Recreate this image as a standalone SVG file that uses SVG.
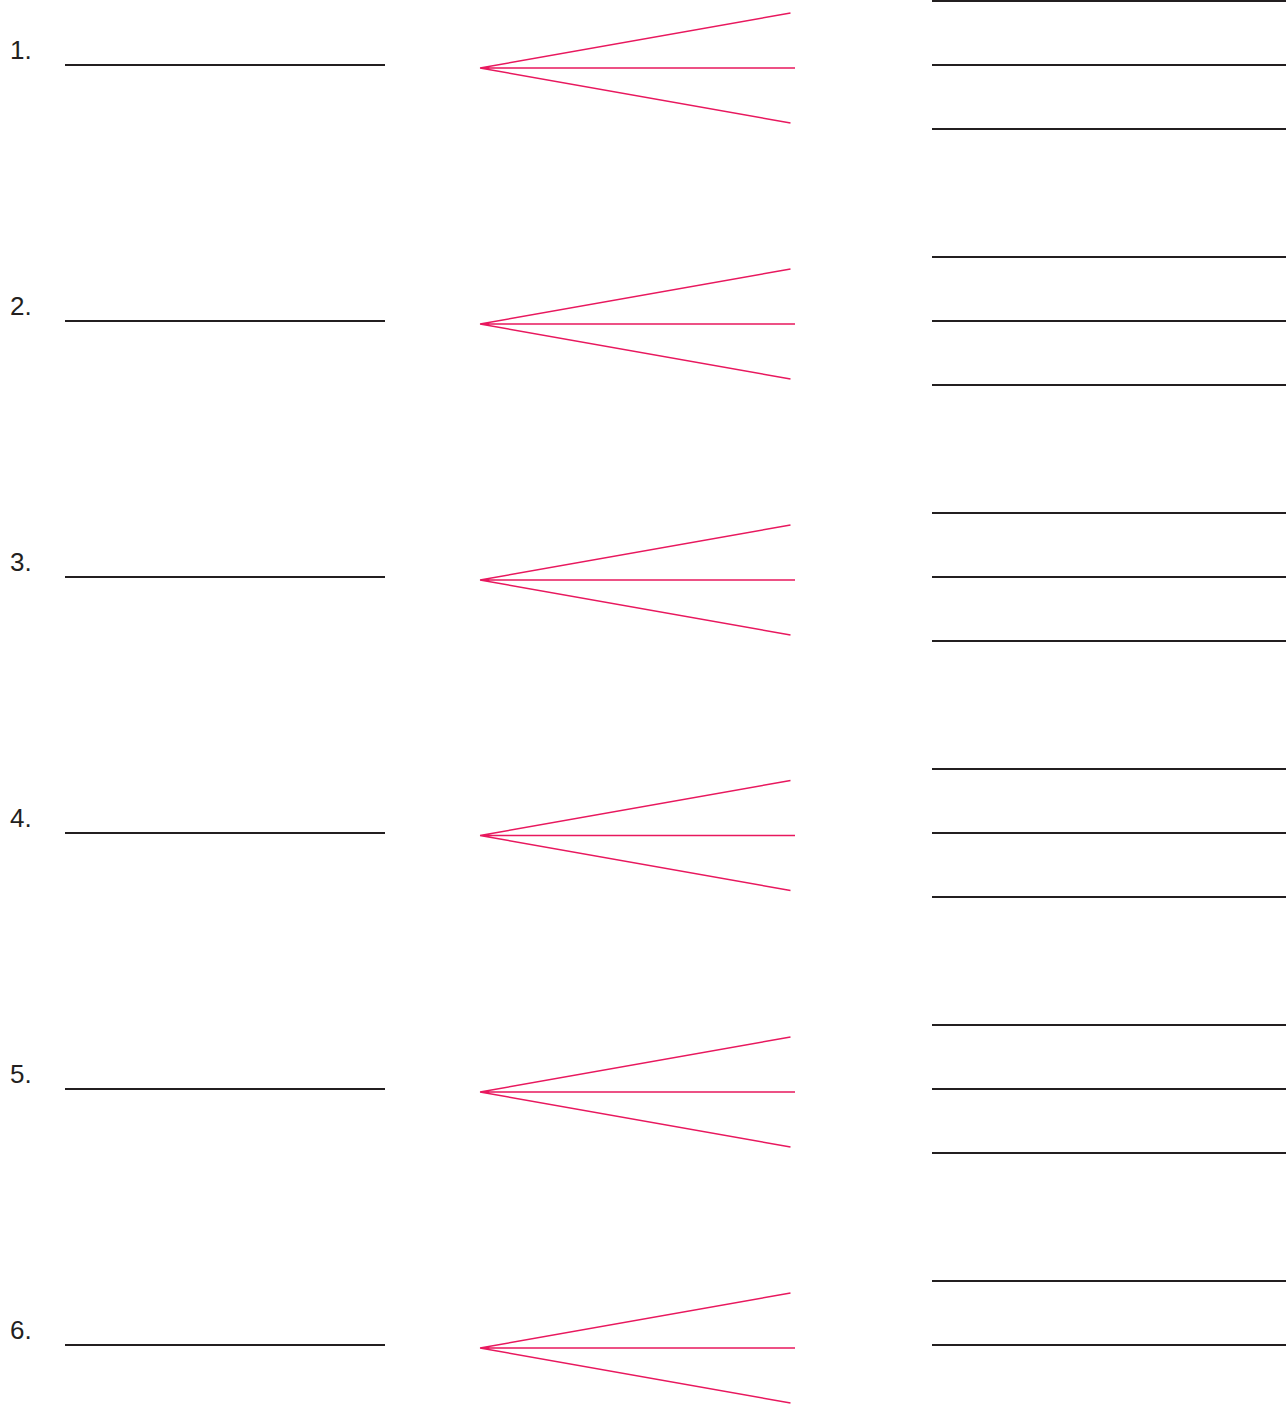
<svg xmlns="http://www.w3.org/2000/svg" width="1286" height="1407" viewBox="0 0 1286 1407">
<style>
.num{font-family:"Liberation Sans",Arial,sans-serif;font-size:26px;fill:#231f20}
.ul{stroke:#231f20;stroke-width:1.8;fill:none}
.fan{stroke:#e8185e;stroke-width:1.4;fill:none}
</style>
<rect width="1286" height="1407" fill="#ffffff"/>
<defs>
<g id="fanshape">
<path class="fan" d="M480,0 L790.5,-55 M480,0 L795,0 M480,0 L790.5,55"/>
</g>
</defs>
<g id="connectors">
<use href="#fanshape" y="68"/>
<use href="#fanshape" y="324"/>
<use href="#fanshape" y="580"/>
<use href="#fanshape" y="835.5"/>
<use href="#fanshape" y="1092"/>
<use href="#fanshape" y="1348"/>
</g>
<g id="node1"><text class="num" x="10" y="59">1.</text><line class="ul" x1="65" y1="65" x2="385" y2="65"/></g>
<g id="node2"><text class="num" x="10" y="315">2.</text><line class="ul" x1="65" y1="321" x2="385" y2="321"/></g>
<g id="node3"><text class="num" x="10" y="571">3.</text><line class="ul" x1="65" y1="577" x2="385" y2="577"/></g>
<g id="node4"><text class="num" x="10" y="827">4.</text><line class="ul" x1="65" y1="833" x2="385" y2="833"/></g>
<g id="node5"><text class="num" x="10" y="1083">5.</text><line class="ul" x1="65" y1="1089" x2="385" y2="1089"/></g>
<g id="node6"><text class="num" x="10" y="1339">6.</text><line class="ul" x1="65" y1="1345" x2="385" y2="1345"/></g>
<g id="answers1"><line class="ul" x1="932" y1="1" x2="1286" y2="1"/><line class="ul" x1="932" y1="65" x2="1286" y2="65"/><line class="ul" x1="932" y1="129" x2="1286" y2="129"/></g>
<g id="answers2"><line class="ul" x1="932" y1="257" x2="1286" y2="257"/><line class="ul" x1="932" y1="321" x2="1286" y2="321"/><line class="ul" x1="932" y1="385" x2="1286" y2="385"/></g>
<g id="answers3"><line class="ul" x1="932" y1="513" x2="1286" y2="513"/><line class="ul" x1="932" y1="577" x2="1286" y2="577"/><line class="ul" x1="932" y1="641" x2="1286" y2="641"/></g>
<g id="answers4"><line class="ul" x1="932" y1="769" x2="1286" y2="769"/><line class="ul" x1="932" y1="833" x2="1286" y2="833"/><line class="ul" x1="932" y1="897" x2="1286" y2="897"/></g>
<g id="answers5"><line class="ul" x1="932" y1="1025" x2="1286" y2="1025"/><line class="ul" x1="932" y1="1089" x2="1286" y2="1089"/><line class="ul" x1="932" y1="1153" x2="1286" y2="1153"/></g>
<g id="answers6"><line class="ul" x1="932" y1="1281" x2="1286" y2="1281"/><line class="ul" x1="932" y1="1345" x2="1286" y2="1345"/></g>
</svg>
